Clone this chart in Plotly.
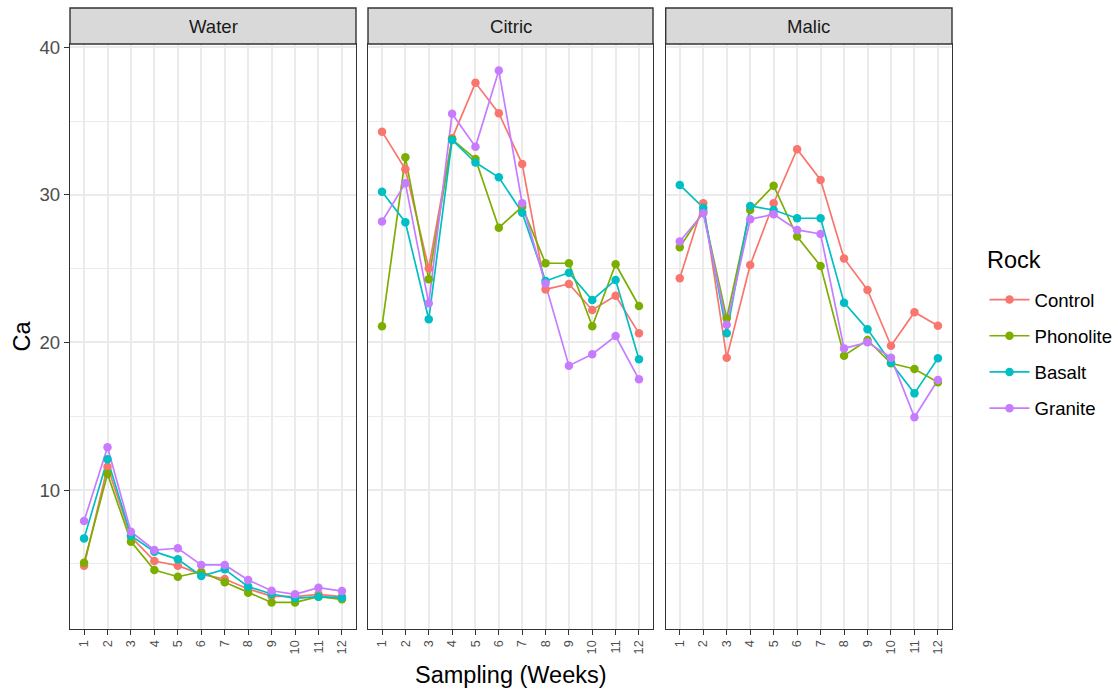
import plotly.graph_objects as go

weeks = list(range(1, 13))
week_labels = [str(w) for w in weeks]
rocks = ["Control", "Phonolite", "Basalt", "Granite"]
rock_colors = ["#F8766D", "#7CAE00", "#00BFC4", "#C77CFF"]
treatments = ["Water", "Citric", "Malic"]

water_control = [4.87, 11.58, 6.83, 5.19, 4.87, 4.28, 3.97, 3.29, 2.81, 2.77, 2.93, 2.77]
water_phonolite = [5.07, 11.08, 6.50, 4.58, 4.12, 4.46, 3.74, 3.04, 2.38, 2.38, 2.77, 2.59]
water_basalt = [6.72, 12.08, 6.90, 5.82, 5.30, 4.17, 4.62, 3.45, 2.95, 2.66, 2.77, 2.70]
water_granite = [7.90, 12.90, 7.17, 5.93, 6.05, 4.92, 4.92, 3.90, 3.17, 2.93, 3.38, 3.15]

citric_control = [34.29, 31.74, 25.03, 33.84, 37.60, 35.54, 32.10, 23.60, 23.97, 22.20, 23.17, 20.62]
citric_phonolite = [21.10, 32.55, 24.28, 33.77, 32.44, 27.78, 29.20, 25.37, 25.37, 21.10, 25.30, 22.47]
citric_basalt = [30.22, 28.15, 21.57, 33.73, 32.20, 31.20, 28.80, 24.17, 24.73, 22.88, 24.24, 18.86]
citric_granite = [28.20, 30.80, 22.66, 35.50, 33.27, 38.43, 29.43, 24.00, 18.43, 19.20, 20.44, 17.50]

malic_control = [24.35, 29.44, 18.97, 25.25, 29.44, 33.10, 31.02, 25.70, 23.56, 19.78, 22.05, 21.14]
malic_phonolite = [26.45, 28.87, 21.64, 28.98, 30.63, 27.18, 25.19, 19.10, 20.17, 18.59, 18.20, 17.30]
malic_basalt = [30.68, 29.14, 20.62, 29.25, 28.98, 28.42, 28.42, 22.70, 20.89, 18.63, 16.55, 18.93]
malic_granite = [26.84, 28.76, 21.20, 28.35, 28.69, 27.63, 27.36, 19.60, 20.01, 18.97, 14.93, 17.46]

y_ticks = [10, 20, 30, 40]
y_minor = [5, 15, 25, 35]

panels = {
    "Water": [water_control, water_phonolite, water_basalt, water_granite],
    "Citric": [citric_control, citric_phonolite, citric_basalt, citric_granite],
    "Malic": [malic_control, malic_phonolite, malic_basalt, malic_granite],
}

FONT = "Arial, 'Liberation Sans', sans-serif"
W, H = 1118, 691
ML, MR, MT, MB = 70, 166, 8, 62
PW = W - ML - MR
PH = H - MT - MB

x_domains = [
    (0.0, 286.0 / PW),
    ((368.0 - ML) / PW, (653.0 - ML) / PW),
    ((665.7 - ML) / PW, 1.0),
]
strip_h = 36.0
y_top = 1.0 - strip_h / PH

all_vals = [v for series in panels.values() for s in series for v in s]
lo, hi = min(all_vals), max(all_vals)
pad = 0.05 * (hi - lo)
y_range = [lo - pad, hi + pad]

fig = go.Figure()

for i, t in enumerate(treatments):
    xa = "x" if i == 0 else f"x{i+1}"
    ya = "y" if i == 0 else f"y{i+1}"
    series = panels[t]
    # lines first (below all points, like ggplot)
    for r, col, vals in zip(rocks, rock_colors, series):
        fig.add_trace(go.Scatter(
            x=weeks, y=vals, mode="lines", xaxis=xa, yaxis=ya,
            line=dict(color=col, width=1.7), legendgroup=r,
            showlegend=False, hoverinfo="skip"))
    for r, col, vals in zip(rocks, rock_colors, series):
        fig.add_trace(go.Scatter(
            x=weeks, y=vals, mode="markers", xaxis=xa, yaxis=ya,
            marker=dict(color=col, size=8.5), legendgroup=r,
            showlegend=False, name=r))

# legend entries
for r, col in zip(rocks, rock_colors):
    fig.add_trace(go.Scatter(
        x=[None], y=[None], mode="lines+markers", name=r, legendgroup=r,
        line=dict(color=col, width=1.7), marker=dict(color=col, size=8.5),
        showlegend=True, xaxis="x", yaxis="y"))

axis_common = dict(
    showline=True, linecolor="#333333", linewidth=1.4, mirror=True,
    zeroline=False, showgrid=True, gridcolor="#EBEBEB", gridwidth=1.5,
    ticks="outside", ticklen=5, tickwidth=1.4, tickcolor="#333333",
    automargin=False,
)

layout = dict(
    width=W, height=H,
    margin=dict(l=ML, r=MR, t=MT, b=MB, autoexpand=False),
    paper_bgcolor="white", plot_bgcolor="white",
    font=dict(family=FONT, color="#000000"),
    showlegend=True,
    legend=dict(
        font=dict(size=18.6, color="#000000"),
        x=(984.5 - ML) / PW, xanchor="left",
        y=1.0 - (281 - MT) / PH, yanchor="top",
        tracegroupgap=9, itemwidth=40, bgcolor="rgba(0,0,0,0)",
    ),
)

shapes = []
annotations = []
for i, t in enumerate(treatments):
    xk = "xaxis" if i == 0 else f"xaxis{i+1}"
    yk = "yaxis" if i == 0 else f"yaxis{i+1}"
    anchor_y = "y" if i == 0 else f"y{i+1}"
    anchor_x = "x" if i == 0 else f"x{i+1}"
    layout[xk] = dict(
        axis_common, domain=list(x_domains[i]), anchor=anchor_y,
        range=[0.4, 12.6], tickvals=weeks, ticktext=week_labels,
        tickangle=-90, tickfont=dict(size=12.7, color="#4D4D4D", family=FONT),
    )
    ydict = dict(
        axis_common, domain=[0.0, y_top], anchor=anchor_x,
        range=y_range, tickvals=y_ticks,
        tickfont=dict(size=18.6, color="#4D4D4D", family=FONT),
        minor=dict(tickvals=y_minor, showgrid=True, gridcolor="#EBEBEB",
                   gridwidth=0.8, ticks=""),
    )
    if i > 0:
        ydict["matches"] = "y"
        ydict["showticklabels"] = False
        ydict["ticks"] = ""
    layout[yk] = ydict

    shapes.append(dict(
        type="rect", xref="paper", yref="paper",
        x0=x_domains[i][0], x1=x_domains[i][1], y0=y_top, y1=1.0,
        fillcolor="#D9D9D9", line=dict(color="#333333", width=1.4), layer="above"))
    annotations.append(dict(
        text=t, xref="paper", yref="paper",
        x=(x_domains[i][0] + x_domains[i][1]) / 2, y=(y_top + 1.0) / 2,
        xanchor="center", yanchor="middle", showarrow=False,
        font=dict(size=18.6, color="#1A1A1A", family=FONT)))

annotations.append(dict(
    text="Ca", xref="paper", yref="paper",
    x=(21 - ML) / PW, y=y_top / 2, xanchor="center", yanchor="middle",
    textangle=-90, showarrow=False, font=dict(size=23.5, color="#000000", family=FONT)))
annotations.append(dict(
    text="Sampling (Weeks)", xref="paper", yref="paper",
    x=(510.5 - ML) / PW, y=1.0 - (675 - MT) / PH, xanchor="center", yanchor="middle",
    showarrow=False, font=dict(size=23.5, color="#000000", family=FONT)))
annotations.append(dict(
    text="Rock", xref="paper", yref="paper",
    x=(985 - ML) / PW, y=1.0 - (260 - MT) / PH, xanchor="left", yanchor="middle",
    showarrow=False, font=dict(size=23.5, color="#000000", family=FONT)))

layout["shapes"] = shapes
layout["annotations"] = annotations
fig.update_layout(**layout)

fig.write_html("out.html")
